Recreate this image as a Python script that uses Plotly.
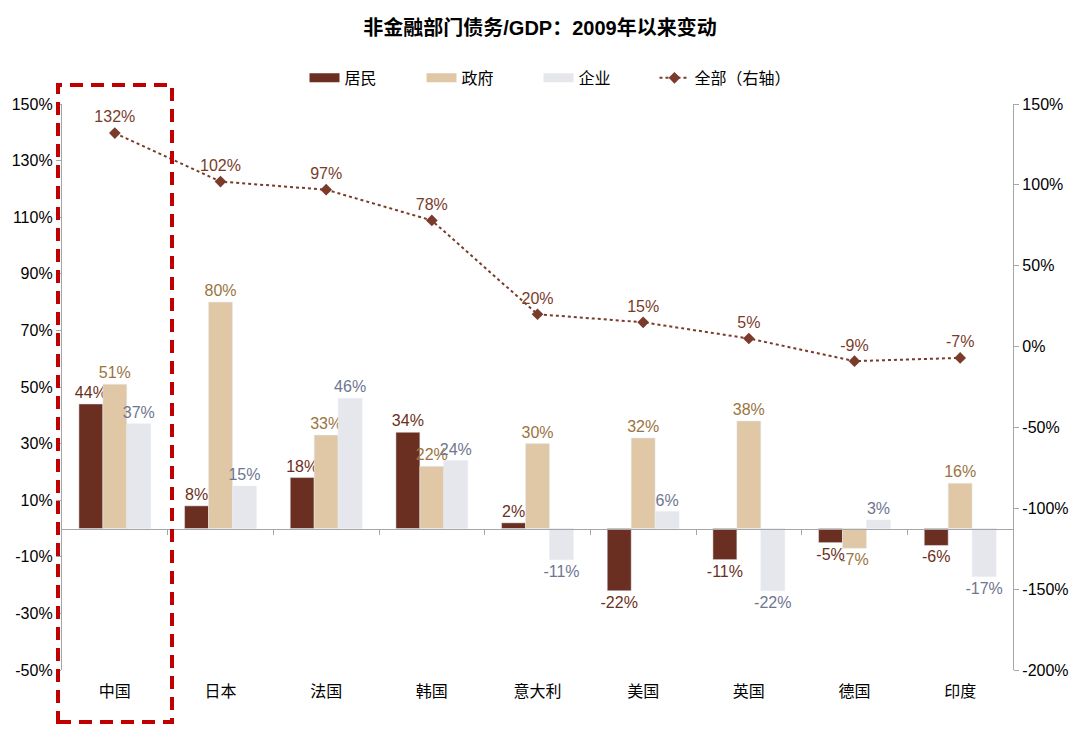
import plotly.graph_objects as go

categories = ["中国", "日本", "法国", "韩国", "意大利", "美国", "英国", "德国", "印度"]
household = [44, 8, 18, 34, 2, -22, -11, -5, -6]
government = [51, 80, 33, 22, 30, 32, 38, -7, 16]
corporate = [37, 15, 46, 24, -11, 6, -22, 3, -17]
total = [132, 102, 97, 78, 20, 15, 5, -9, -7]

left_ticks = list(range(-50, 151, 20))
right_ticks = list(range(-200, 151, 50))

FONT = "Liberation Sans, Arial, Noto Sans CJK SC, sans-serif"
C_HH = "#6B2F22"
C_GOV = "#E0C8A6"
C_CORP = "#E6E7EC"
C_LINE = "#7A3B2B"

bar_series = [
    ("居民", household, C_HH, "#6B2F22"),
    ("政府", government, C_GOV, "#9A7440"),
    ("企业", corporate, C_CORP, "#6E7690"),
]

fig = go.Figure()
for name, vals, col, tcol in bar_series:
    fig.add_trace(go.Bar(name=name, x=categories, y=vals, marker_color=col,
                         text=[f"{v}%" for v in vals], textposition="outside",
                         constraintext="none", showlegend=False,
                         textfont=dict(color=tcol, size=16), cliponaxis=False))
# wide legend swatches for the bar series
for name, vals, col, tcol in bar_series:
    fig.add_trace(go.Scatter(name=name, x=[None], y=[None], mode="lines",
                             line=dict(color=col, width=9), hoverinfo="skip"))

fig.add_trace(go.Scatter(name="全部（右轴）", x=categories, y=total, yaxis="y2",
                         legend="legend2",
                         mode="lines+markers+text",
                         line=dict(color=C_LINE, width=2, dash="dot"),
                         marker=dict(symbol="diamond", size=9, color=C_LINE),
                         text=[f"{v}%" for v in total], textposition="top center",
                         textfont=dict(color=C_LINE, size=16), cliponaxis=False))
# carrier for the zero-level category axis (ticks between groups)
fig.add_trace(go.Scatter(x=[], y=[], xaxis="x2", yaxis="y", showlegend=False,
                         hoverinfo="skip", mode="markers"))

fig.update_layout(
    width=1080, height=742, autosize=False,
    margin=dict(l=62, r=67, t=104, b=72),
    paper_bgcolor="white", plot_bgcolor="white",
    font=dict(family=FONT, size=16, color="black"),
    title=dict(text="<b>非金融部门债务/GDP：2009年以来变动</b>", x=0.5, xref="container",
               xanchor="center", y=1 - 28 / 742, yanchor="middle",
               font=dict(size=20, color="black")),
    barmode="group", bargap=0.32, bargroupgap=0,
    legend=dict(orientation="h", x=0.255, xanchor="left", y=1.046, yanchor="middle",
                font=dict(size=16), entrywidth=72, traceorder="normal"),
    legend2=dict(orientation="h", x=0.623, xanchor="left", y=1.046, yanchor="middle",
                 font=dict(size=16)),
    xaxis=dict(type="category", range=[-0.5, len(categories) - 0.5], showline=False,
               ticks="", showgrid=False, zeroline=False, ticklabelstandoff=10,
               tickfont=dict(size=16)),
    xaxis2=dict(overlaying="x", anchor="free", position=50 / 200, range=[-0.5, len(categories) - 0.5],
                showline=True, linecolor="#A6A6A6", linewidth=1.3, ticks="outside",
                tickcolor="#A6A6A6", ticklen=5, tickmode="array",
                tickvals=[i + 0.5 for i in range(len(categories) - 1)],
                showticklabels=False, showgrid=False, zeroline=False),
    yaxis=dict(range=[-50, 150], tickvals=left_ticks, ticktext=[f"{v}%" for v in left_ticks],
               showline=True, linecolor="#A6A6A6", linewidth=1.3, ticks="outside",
               tickcolor="#A6A6A6", ticklen=5, showgrid=False, zeroline=False,
               tickfont=dict(size=16)),
    yaxis2=dict(range=[-200, 150], tickvals=right_ticks, ticktext=[f"{v}%" for v in right_ticks],
                overlaying="y", side="right", showline=True, linecolor="#A6A6A6", linewidth=1.3,
                ticks="outside", tickcolor="#A6A6A6", ticklen=5, showgrid=False, zeroline=False,
                tickfont=dict(size=16)),
)

fig.add_shape(type="rect", xref="paper", yref="paper",
              x0=-4 / 951, x1=110 / 951, y0=-52 / 566, y1=585 / 566,
              line=dict(color="#C00000", width=4, dash="13px,8px"), fillcolor="rgba(0,0,0,0)")

fig.write_html("out.html", config={"displayModeBar": False},
               post_script="document.body.style.margin='0';")
